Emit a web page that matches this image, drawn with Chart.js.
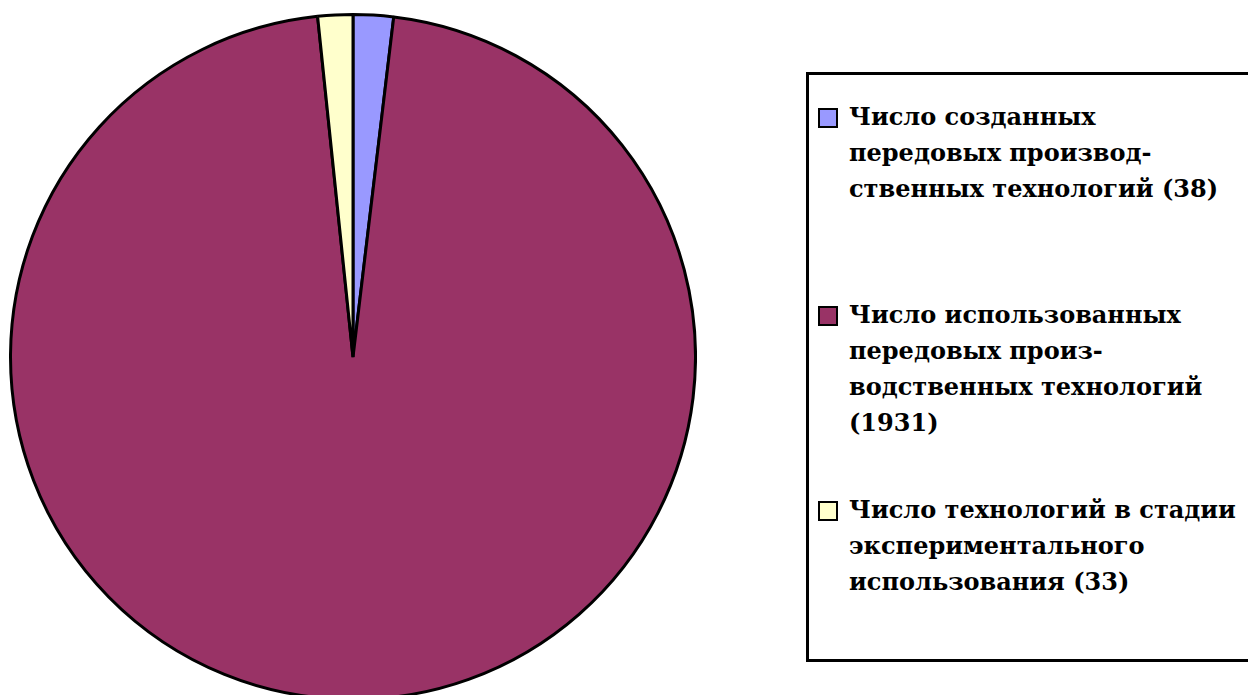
<!DOCTYPE html>
<html>
<head>
<meta charset="utf-8">
<script src="https://cdn.jsdelivr.net/npm/chart.js@4"></script>
<style>
  html, body { margin: 0; padding: 0; width: 1248px; height: 695px; overflow: hidden; background: #fff; }
  #wrap { position: absolute; left: 9px; top: 13px; width: 688px; height: 688px; }
  #legend { position: absolute; left: 806px; top: 72px; width: 480px; height: 590px; border: 3px solid #000; box-sizing: border-box; }
  .item { position: absolute; left: 818px; font: bold 24px "DejaVu Serif", serif; line-height: 36px; color: #000; }
  .box { position: absolute; left: 0; top: 9px; width: 20px; height: 20px; border: 2px solid #000; box-sizing: border-box; }
  .txt { margin-left: 31px; white-space: nowrap; }
</style>
</head>
<body>
<div id="wrap"><canvas id="pie"></canvas></div>
<div id="legend"></div>
<script>
// slices, clockwise from 12 o'clock
const labels = [
  'Число созданных передовых производственных технологий (38)',
  'Число использованных передовых производственных технологий (1931)',
  'Число технологий в стадии экспериментального использования (33)'
];
// legend text as wrapped in the original
const legendLines = [
  ['Число созданных', 'передовых производ-', 'ственных технологий (38)'],
  ['Число использованных', 'передовых произ-', 'водственных технологий', '(1931)'],
  ['Число технологий в стадии', 'экспериментального', 'использования (33)']
];
const values = [38, 1931, 33];
const colors = ['#9999FF', '#993366', '#FFFFCC'];

new Chart(document.getElementById('pie'), {
  type: 'pie',
  data: {
    labels: labels,
    datasets: [{
      data: values,
      backgroundColor: colors,
      borderColor: '#000',
      borderWidth: 3
    }]
  },
  options: {
    responsive: true,
    maintainAspectRatio: false,
    animation: false,
    layout: { padding: 0 },
    plugins: {
      legend: { display: false },
      tooltip: { enabled: false }
    }
  }
});

// html legend, items placed on the page
const itemTops = [99, 297, 492];
legendLines.forEach((lines, i) => {
  const item = document.createElement('div');
  item.className = 'item';
  item.style.top = itemTops[i] + 'px';
  const box = document.createElement('div');
  box.className = 'box';
  box.style.background = colors[i];
  item.appendChild(box);
  const txt = document.createElement('div');
  txt.className = 'txt';
  txt.innerHTML = lines.join('<br>');
  item.appendChild(txt);
  document.body.appendChild(item);
});
</script>
</body>
</html>
